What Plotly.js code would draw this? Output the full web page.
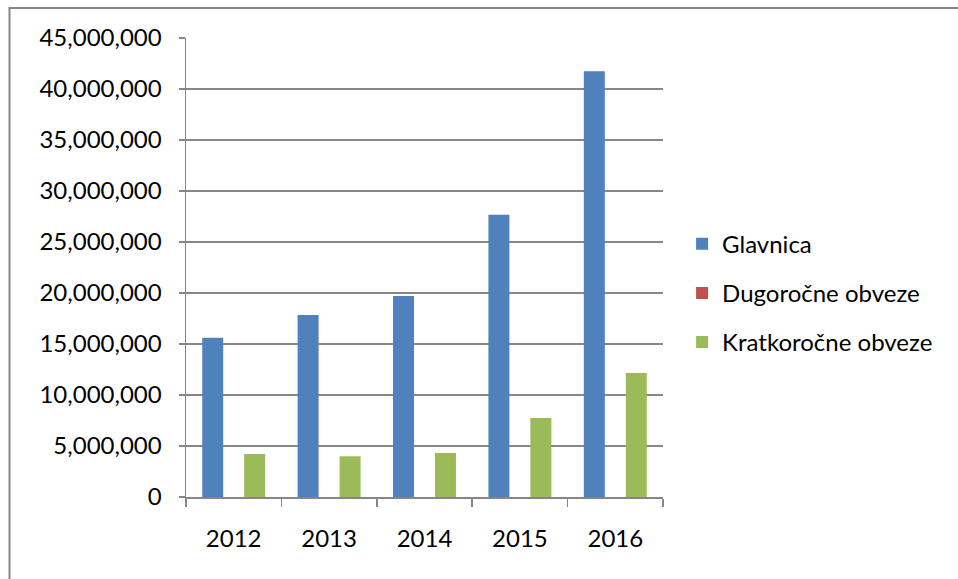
<!DOCTYPE html>
<html>
<head>
<meta charset="utf-8">
<script src="https://cdn.plot.ly/plotly-3.0.1.min.js"></script>
<style>html,body{margin:0;padding:0;background:#fff;}#chart{width:958px;height:579px;}</style>
</head>
<body>
<div id="chart"></div>
<script>
const years = ['2012', '2013', '2014', '2015', '2016'];
const glavnica = [15620000, 17840000, 19700000, 27680000, 41730000];
const dugorocne = [0, 0, 0, 0, 0];
const kratkorocne = [4220000, 3990000, 4310000, 7750000, 12160000];
const seriesNames = ['Glavnica', 'Dugoročne obveze', 'Kratkoročne obveze'];
const seriesColors = ['#4F81BD', '#C0504D', '#9BBB59'];
const yTickVals = [0, 5000000, 10000000, 15000000, 20000000, 25000000, 30000000, 35000000, 40000000, 45000000];

const font = {family: 'Lato, "Open Sans", sans-serif', size: 24, color: '#000'};
const seriesData = [glavnica, dugorocne, kratkorocne];
const traces = seriesData.map((vals, i) => ({
  type: 'bar', x: years, y: vals, name: seriesNames[i],
  legendgroup: 'g' + i,
  marker: {color: seriesColors[i], line: {width: 0}},
  hoverinfo: 'x+y'
}));

const layout = {
  width: 958, height: 579,
  margin: {l: 186, r: 295, t: 38, b: 82},
  paper_bgcolor: '#fff', plot_bgcolor: '#fff',
  font: font,
  barmode: 'group', bargap: 0.34, bargroupgap: 0,
  showlegend: true,
  legend: {x: 1.04, xanchor: 'left', y: 0.60, yanchor: 'top', font: font,
           traceorder: 'grouped', tracegroupgap: 15, bgcolor: 'rgba(0,0,0,0)'},
  xaxis: {type: 'category', tickson: 'boundaries', ticks: 'outside', ticklen: 8, tickwidth: 1.5,
          tickcolor: '#868686', showline: true, linecolor: '#868686', linewidth: 1.5,
          showgrid: false, tickfont: font, ticklabelstandoff: 20},
  yaxis: {range: [0, 45000000], tickvals: yTickVals, tickformat: ',d', ticks: 'outside',
          ticklen: 6, tickwidth: 1.5, tickcolor: '#868686', showline: true, linecolor: '#868686',
          linewidth: 1.5, showgrid: true, gridcolor: '#878787', gridwidth: 1.5, zeroline: false,
          tickfont: font, ticklabelstandoff: 12, fixedrange: true},
  shapes: [{type: 'rect', xref: 'paper', yref: 'paper',
            x0: (9.5 - 186) / 477, x1: (962 - 186) / 477,
            y0: (497 - 585) / 459, y1: (497 - 8) / 459,
            line: {color: '#868686', width: 2}, fillcolor: 'rgba(0,0,0,0)', layer: 'below'}]
};

Plotly.newPlot('chart', traces, layout, {displayModeBar: false, staticPlot: true});
</script>
</body>
</html>
